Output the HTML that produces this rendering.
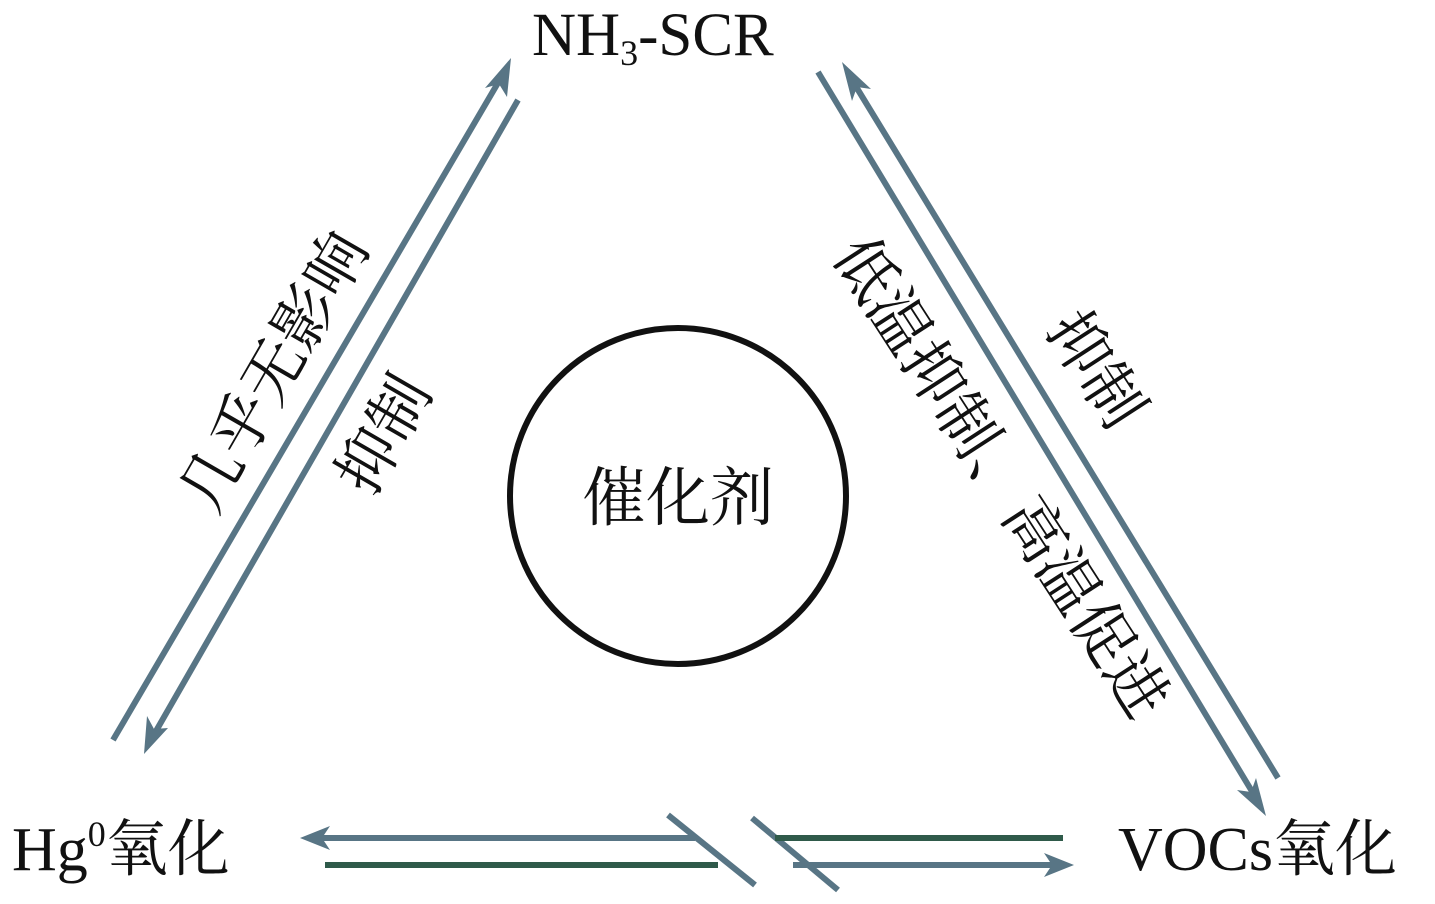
<!DOCTYPE html>
<html><head><meta charset="utf-8"><style>
html,body{margin:0;padding:0;background:#fff;}
svg{display:block}
text{font-family:"Liberation Serif","Noto Serif CJK SC",serif;fill:#111;}
</style></head><body>
<svg width="1435" height="904" viewBox="0 0 1435 904" xmlns="http://www.w3.org/2000/svg">
<g stroke="#587585" stroke-width="6" fill="none">
<line x1="113" y1="740" x2="502" y2="76"/>
<line x1="518" y1="100" x2="152" y2="738"/>
<line x1="818" y1="72" x2="1256" y2="798"/>
<line x1="1278" y1="778" x2="852" y2="80"/>
<line x1="695" y1="838" x2="320" y2="838"/>
<line x1="793" y1="865" x2="1055" y2="865"/>
<line x1="668" y1="815" x2="755" y2="885"/>
<line x1="752" y1="818" x2="838" y2="890"/>
</g>
<g stroke="#2f5a4a" stroke-width="6">
<line x1="325" y1="865" x2="718" y2="865"/>
<line x1="775" y1="838" x2="1063" y2="838"/>
</g>
<g fill="#587585">
<polygon points="511,58 485,88 499,84 507,97"/>
<polygon points="144,754 147,716 154,729 168,728"/>
<polygon points="842,62 871,89 857,87 852,101"/>
<polygon points="1266,816 1237,790 1251,792 1256,778"/>
<polygon points="300,838 330,826 322,838 330,850"/>
<polygon points="1074,865 1044,853 1052,865 1044,877"/>
</g>
<circle cx="678" cy="496" r="168" fill="none" stroke="#111" stroke-width="6"/>
<text x="678" y="520" font-size="64" text-anchor="middle">催化剂</text>
<text x="532" y="55" font-size="61">NH<tspan font-size="36" dy="10">3</tspan><tspan dy="-10">-SCR</tspan></text>
<text x="12" y="870" font-size="62">Hg<tspan font-size="36" dy="-24">0</tspan><tspan dy="24">氧化</tspan></text>
<text x="1118" y="870" font-size="62">VOCs氧化</text>
<text transform="translate(275,372) rotate(-60)" font-size="62" text-anchor="middle" dominant-baseline="central">几乎无影响</text>
<text transform="translate(385,435) rotate(-60)" font-size="62" text-anchor="middle" dominant-baseline="central">抑制</text>
<text transform="translate(1000,478) rotate(57)" font-size="62" text-anchor="middle" dominant-baseline="central">低温抑制、高温促进</text>
<text transform="translate(1095,370) rotate(57)" font-size="62" text-anchor="middle" dominant-baseline="central">抑制</text>
</svg>
</body></html>
